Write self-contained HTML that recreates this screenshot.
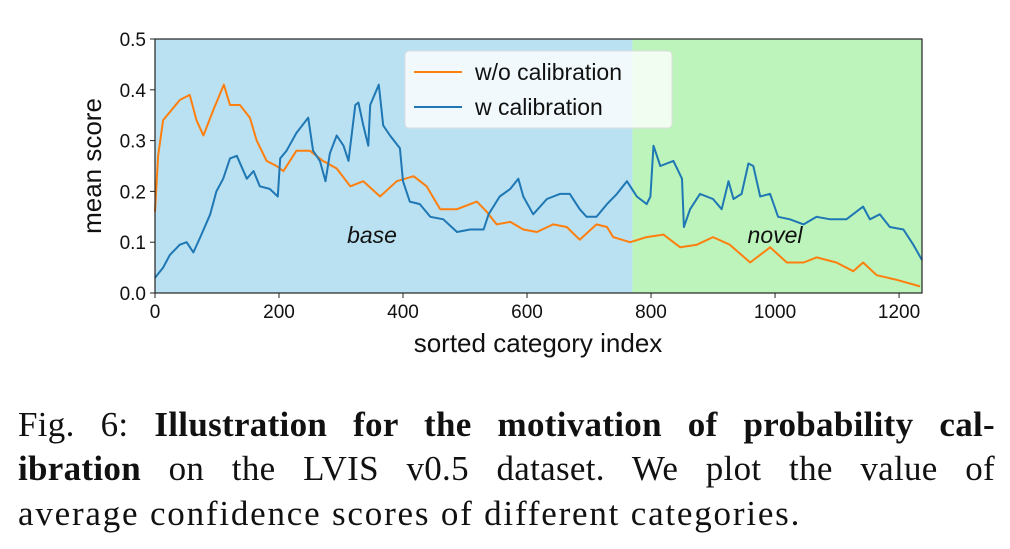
<!DOCTYPE html>
<html><head><meta charset="utf-8"><style>
body{margin:0;background:#fff;width:1010px;height:549px;overflow:hidden;font-family:"Liberation Sans",sans-serif}
.cl{position:absolute;left:18px;width:977px;font-family:"Liberation Serif",serif;font-size:35px;line-height:40px;color:#111;white-space:nowrap;letter-spacing:1.8px}
.j{text-align:justify;text-align-last:justify}
</style></head><body>
<svg id="chart" width="1010" height="400" style="position:absolute;left:0;top:0" font-family="Liberation Sans, DejaVu Sans, sans-serif"></svg>
<div>
<div class="cl j" style="top:405px;letter-spacing:0.3px">Fig. 6: <b>Illustration for the motivation of probability cal-</b></div>
<div class="cl j" style="top:449px;letter-spacing:0.3px"><b>ibration</b> on the LVIS v0.5 dataset. We plot the value of</div>
<div class="cl" style="top:494px">average confidence scores of different categories.</div>
</div>
<script>
const xTicks=[0,200,400,600,800,1000,1200];
const yTicks=[0.0,0.1,0.2,0.3,0.4,0.5];
const yTickLabels=["0.0","0.1","0.2","0.3","0.4","0.5"];
const baseEnd=770;
const orangeX=[0,5,13,40,56,67,78,94,111,121,137,153,164,180,196,207,228,250,271,293,315,336,363,390,417,438,460,487,519,535,551,573,594,616,642,664,685,712,729,739,766,793,820,847,874,900,927,960,992,1019,1046,1067,1099,1126,1142,1164,1196,1234];
const orangeY=[0.16,0.27,0.34,0.38,0.39,0.34,0.31,0.36,0.41,0.37,0.37,0.345,0.30,0.26,0.25,0.24,0.28,0.28,0.26,0.245,0.21,0.22,0.19,0.22,0.23,0.21,0.165,0.165,0.18,0.16,0.135,0.14,0.125,0.12,0.135,0.13,0.105,0.135,0.13,0.11,0.10,0.11,0.115,0.09,0.095,0.11,0.095,0.06,0.09,0.06,0.06,0.07,0.06,0.043,0.06,0.035,0.026,0.013];
const blueX=[0,13,24,40,51,62,73,89,99,110,121,132,148,159,169,185,198,202,212,228,247,255,266,275,282,293,304,312,323,328,336,344,347,361,368,379,395,400,411,427,444,465,487,508,530,538,556,573,586,594,610,632,653,669,685,696,712,729,745,761,777,793,799,804,815,836,850,853,863,879,900,914,925,933,946,957,965,976,992,1005,1024,1046,1067,1089,1115,1142,1153,1169,1185,1207,1223,1237];
const blueY=[0.03,0.05,0.075,0.095,0.10,0.08,0.11,0.155,0.20,0.225,0.265,0.27,0.225,0.24,0.21,0.205,0.19,0.265,0.28,0.315,0.345,0.28,0.26,0.22,0.275,0.31,0.29,0.26,0.37,0.375,0.33,0.29,0.37,0.41,0.33,0.31,0.285,0.22,0.18,0.175,0.15,0.145,0.12,0.125,0.125,0.155,0.19,0.205,0.225,0.19,0.155,0.185,0.195,0.195,0.165,0.15,0.15,0.175,0.195,0.22,0.19,0.175,0.19,0.29,0.25,0.26,0.225,0.13,0.165,0.195,0.185,0.165,0.22,0.185,0.195,0.255,0.25,0.19,0.195,0.15,0.145,0.135,0.15,0.145,0.145,0.17,0.145,0.155,0.13,0.125,0.095,0.065];
const L=155,R=922,T=39,B=293,XMAX=1237;
const sx=v=>L+v*(R-L)/XMAX, sy=v=>B-v*(B-T)/0.5;
const svg=document.getElementById('chart');const NS='http://www.w3.org/2000/svg';
function mk(t,a,p){const e=document.createElementNS(NS,t);for(const k in a)e.setAttribute(k,a[k]);(p||svg).appendChild(e);return e;}
let e;
e=mk('rect',{x:L,y:T,width:sx(baseEnd)-L,height:B-T,fill:'#b9e1f2'});


e=mk('rect',{x:sx(baseEnd),y:T,width:R-sx(baseEnd),height:B-T,fill:'#bcf4bb'});


function line(xs,ys,c,n){const d=xs.map((x,i)=>(i?'L':'M')+sx(x).toFixed(1)+','+sy(ys[i]).toFixed(1)).join('');
e=mk('path',{d:d,fill:'none',stroke:c,'stroke-width':2,'stroke-linejoin':'round'});

}
line(orangeX,orangeY,'#ff7f0e','series-without-calibration');
line(blueX,blueY,'#1f77b4','series-with-calibration');
e=mk('text',{x:sx(350),y:243,'font-size':23,'font-style':'italic','text-anchor':'middle',fill:'#111'});e.textContent='base';


e=mk('text',{x:sx(1000),y:243,'font-size':23,'font-style':'italic','text-anchor':'middle',fill:'#111'});e.textContent='novel';


const lg=mk('g',{});


mk('rect',{x:405,y:51,width:267,height:77,rx:4,fill:'#fff','fill-opacity':0.8,stroke:'#ddd'},lg);
mk('line',{x1:414,y1:72,x2:462,y2:72,stroke:'#ff7f0e','stroke-width':2},lg);
mk('line',{x1:414,y1:107,x2:462,y2:107,stroke:'#1f77b4','stroke-width':2},lg);
e=mk('text',{x:475,y:80,'font-size':23,fill:'#111'},lg);e.textContent='w/o calibration';


e=mk('text',{x:475,y:115,'font-size':23,fill:'#111'},lg);e.textContent='w calibration';


e=mk('rect',{x:L,y:T,width:R-L,height:B-T,fill:'none',stroke:'#222','stroke-width':1.2});


xTicks.forEach(v=>{mk('line',{x1:sx(v),y1:B,x2:sx(v),y2:B+5,stroke:'#222'});
e=mk('text',{x:sx(v),y:B+25,'font-size':19,'text-anchor':'middle',fill:'#111'});e.textContent=v;

});
yTicks.forEach((v,i)=>{mk('line',{x1:L-5,y1:sy(v),x2:L,y2:sy(v),stroke:'#222'});
e=mk('text',{x:L-9,y:sy(v)+7,'font-size':19,'text-anchor':'end',fill:'#111'});e.textContent=yTickLabels[i];

});
e=mk('text',{x:538,y:352,'font-size':26,'text-anchor':'middle',fill:'#111'});e.textContent='sorted category index';


e=mk('text',{x:0,y:0,'font-size':26,'text-anchor':'middle',fill:'#111',transform:'translate(101,166) rotate(-90)'});e.textContent='mean score';


</script>
</body></html>
